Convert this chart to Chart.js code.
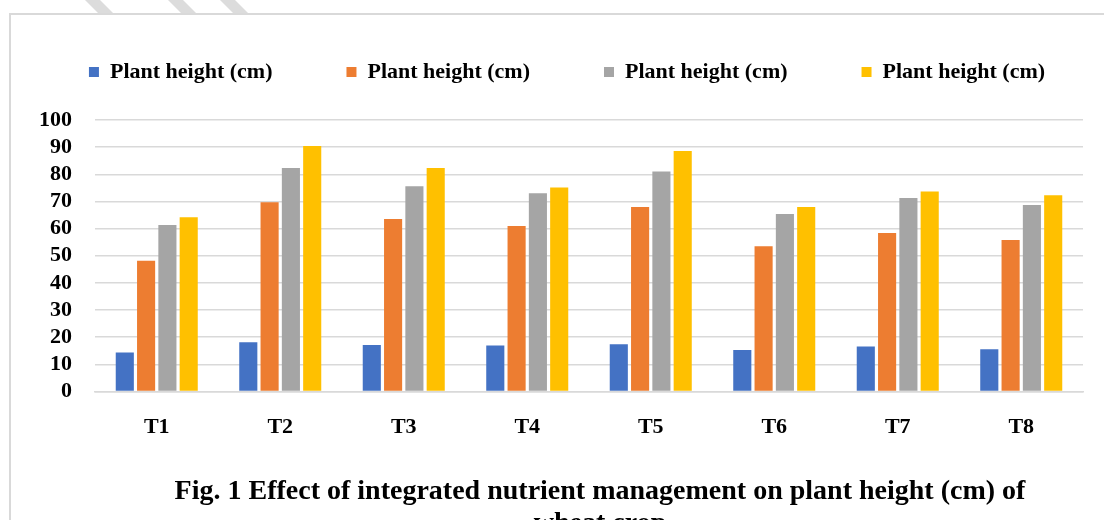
<!DOCTYPE html>
<html>
<head>
<meta charset="utf-8">
<script src="https://cdn.jsdelivr.net/npm/chart.js@4.4.1/dist/chart.umd.min.js"></script>
<style>
  html, body { margin: 0; padding: 0; background: #fff; }
  #wrap { position: relative; width: 1104px; height: 520px; overflow: hidden; background: #fff; }
  .frame { position: absolute; left: 9px; top: 13px; width: 1110px; height: 530px; border: 2px solid #d9d9d9; box-sizing: border-box; }
  .hatch { position: absolute; top: 0; width: 15px; height: 13px; background: #dcdcdc; transform: skewX(45deg); transform-origin: top left; }
  #chart { position: absolute; left: 0; top: 0; }
  .caption { position: absolute; left: 100px; width: 1000px; top: 474px; text-align: center;
    font-family: 'Liberation Serif', 'Times New Roman', serif; font-weight: bold; font-size: 28px; line-height: 32px; color: #000; }
</style>
</head>
<body>
<div id="wrap">
  <div class="hatch" style="left:85px"></div>
  <div class="hatch" style="left:168px"></div>
  <div class="hatch" style="left:220px"></div>
  <div class="frame"></div>
  <canvas id="chart" width="1104" height="520"></canvas>
  <div class="caption">Fig. 1 Effect of integrated nutrient management on plant height (cm) of<br>wheat crop</div>
</div>
<script>
const treatments = ['T1', 'T2', 'T3', 'T4', 'T5', 'T6', 'T7', 'T8'];
const seriesNames = ['Plant height (cm)', 'Plant height (cm)', 'Plant height (cm)', 'Plant height (cm)'];
const height1 = [14.4, 18.1, 17.1, 16.9, 17.4, 15.3, 16.6, 15.6];
const height2 = [48.2, 69.7, 63.5, 61.0, 68.0, 53.5, 58.4, 55.8];
const height3 = [61.3, 82.3, 75.6, 73.0, 81.0, 65.4, 71.3, 68.7];
const height4 = [64.2, 90.4, 82.3, 75.1, 88.6, 68.0, 73.7, 72.3];
const colors = ['#4472C4', '#ED7D31', '#A5A5A5', '#FFC000'];
const yTicks = [0, 10, 20, 30, 40, 50, 60, 70, 80, 90, 100];

const font = { family: "'Liberation Serif', 'Times New Roman', serif", weight: 'bold', size: 22 };

// the legend is wider than the box chart.js gives it: let it use one row,
// nudge it a bit right and leave a gap under it, like the original sheet
const legendFix = {
  id: 'legendFix',
  beforeLayout(chart) {
    const lg = chart.legend;
    if (!lg || lg._patched) return;
    const fit = lg.fit;
    lg.fit = function () {
      const mw = this.maxWidth;
      this.maxWidth = mw + 120;
      fit.call(this);
      this.maxWidth = mw;
      this.width = Math.min(this.width, mw);
      this.height += 27;
    };
    const draw = lg.draw;
    lg.draw = function () {
      const l = this.left, r = this.right;
      this.left = l - 23;
      this.right = r + 38;
      draw.call(this);
      this.left = l;
      this.right = r;
    };
    lg._patched = true;
  }
};

const datasets = [height1, height2, height3, height4].map((vals, i) => ({
  label: seriesNames[i],
  data: vals,
  backgroundColor: colors[i],
  categoryPercentage: 0.69,
  barPercentage: 0.85
}));

new Chart(document.getElementById('chart'), {
  type: 'bar',
  data: { labels: treatments, datasets },
  plugins: [legendFix],
  options: {
    responsive: false,
    animation: false,
    layout: { padding: { left: 36, right: 21, top: -13, bottom: 0 } },
    plugins: {
      legend: {
        position: 'top',
        labels: { boxWidth: 10, boxHeight: 10, padding: 74, color: '#000', font }
      },
      tooltip: { enabled: false }
    },
    scales: {
      x: {
        grid: { display: false, drawTicks: false },
        border: { display: true, color: '#d9d9d9', width: 1.5 },
        ticks: { color: '#000', font, padding: 23 },
        afterFit(scale) { scale.height = 128.5; }
      },
      y: {
        min: 0, max: 100,
        afterBuildTicks(scale) { scale.ticks = yTicks.map(v => ({ value: v })); },
        grid: { color: '#d9d9d9', lineWidth: 1.5, drawTicks: false },
        border: { display: false },
        ticks: { color: '#000', font, padding: 23, autoSkip: false },
        afterFit(scale) { scale.width = 59; }
      }
    }
  }
});
</script>
</body>
</html>
